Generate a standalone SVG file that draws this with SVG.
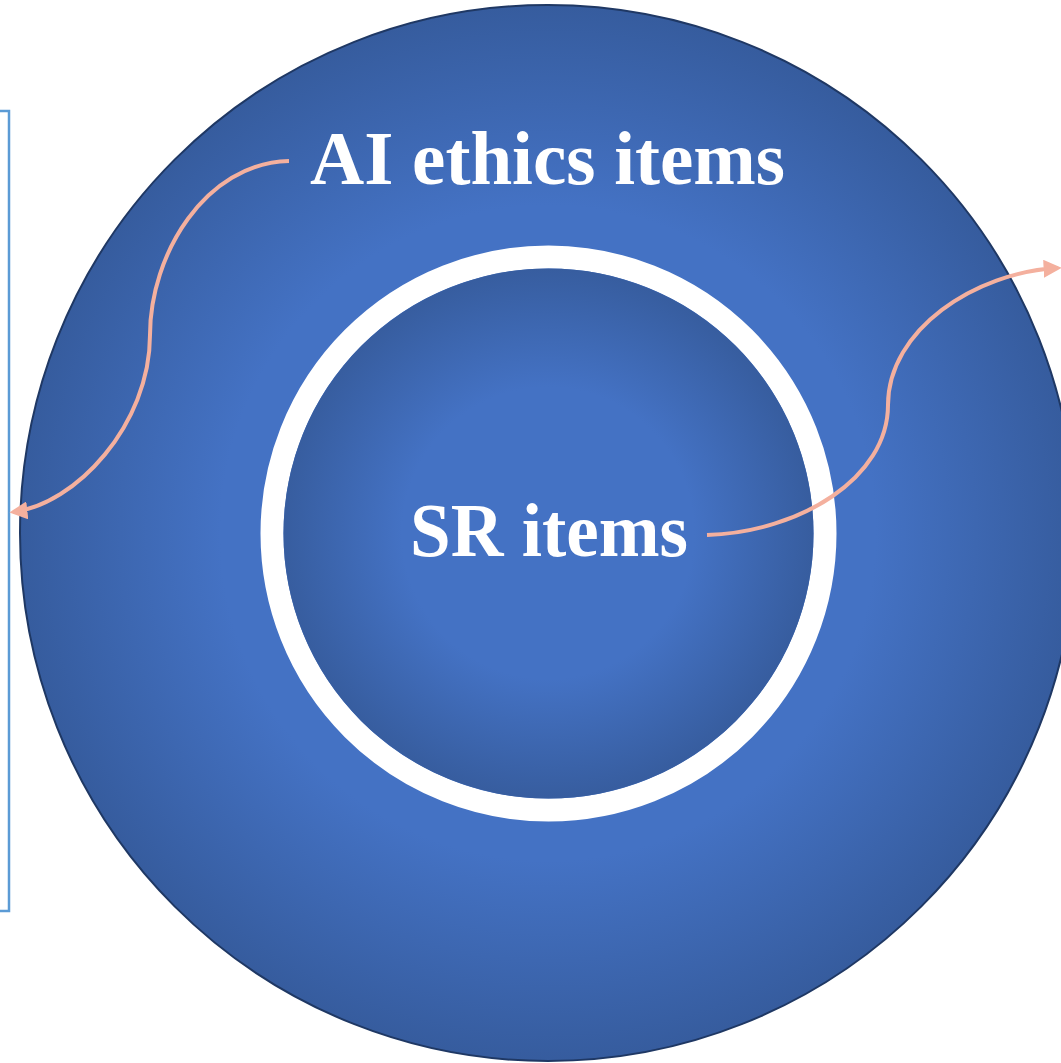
<svg xmlns="http://www.w3.org/2000/svg" width="1061" height="1063" viewBox="0 0 1061 1063">
  <defs>
    <radialGradient id="outerFill" cx="548" cy="533" r="528" gradientUnits="userSpaceOnUse">
      <stop offset="0" stop-color="#4472C4"/>
      <stop offset="0.62" stop-color="#4472C4"/>
      <stop offset="1" stop-color="#365C9E"/>
    </radialGradient>
    <radialGradient id="innerFill" cx="548" cy="533" r="265" gradientUnits="userSpaceOnUse">
      <stop offset="0" stop-color="#4472C4"/>
      <stop offset="0.55" stop-color="#4472C4"/>
      <stop offset="1" stop-color="#375D9F"/>
    </radialGradient>
    <marker id="arrow" viewBox="0 0 10 10" refX="8" refY="5" markerWidth="4.5" markerHeight="4.5" orient="auto-start-reverse" markerUnits="strokeWidth">
      <path d="M0,0 L10,5 L0,10 z" fill="#F4B09E"/>
    </marker>
  </defs>
  <style>
    .label { font-family: "Liberation Serif", "Times New Roman", serif; font-weight: bold; fill: #FFFFFF; }
    .link { fill: none; stroke: #F4B09E; stroke-width: 4; stroke-linecap: butt; }
    .bracket { fill: none; stroke: #5B9BD5; stroke-width: 2.5; }
  </style>
  <rect width="1061" height="1063" fill="#FFFFFF"/>

  <!-- bracket on the left edge -->
  <path class="bracket" d="M0,111 H9 V911 H0"/>

  <g id="outer">
    <circle cx="548" cy="533" r="528" fill="url(#outerFill)" stroke="#1F3864" stroke-width="2"/>
    <text class="label" x="310" y="184" font-size="76" textLength="475" lengthAdjust="spacingAndGlyphs">AI ethics items</text>
  </g>

  <g id="inner">
    <circle cx="548.5" cy="533.5" r="276.5" fill="none" stroke="#FFFFFF" stroke-width="23"/>
    <circle cx="548.5" cy="533.5" r="265" fill="url(#innerFill)"/>
    <text class="label" x="410" y="556" font-size="76" textLength="278" lengthAdjust="spacingAndGlyphs">SR items</text>
  </g>

  <g id="connectors">
    <path class="link" marker-end="url(#arrow)" d="M289,161 C205,163 150,255 150,335 C150,425 75,505 13,512"/>
    <path class="link" marker-end="url(#arrow)" d="M707,535 C800,532 888,478 888,405 C888,330 975,272 1058,268"/>
  </g>
</svg>
